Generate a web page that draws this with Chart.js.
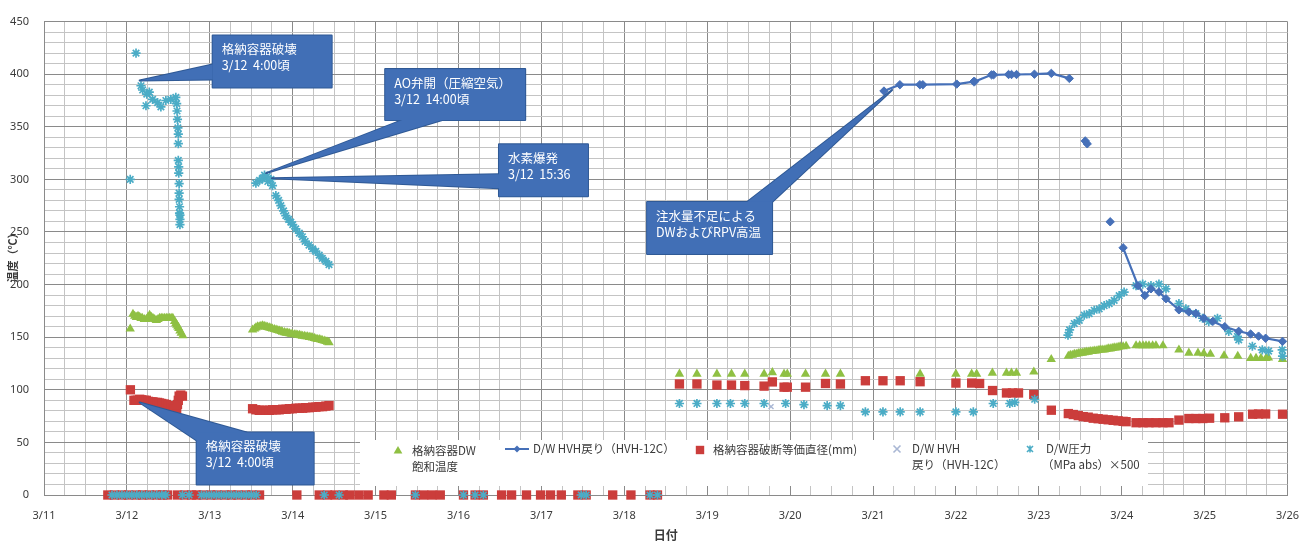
<!DOCTYPE html>
<html lang="ja">
<head>
<meta charset="utf-8">
<title>格納容器温度の推移</title>
<script src="https://cdn.jsdelivr.net/npm/chart.js@4.4.1/dist/chart.umd.min.js"></script>
<style>
  html, body { margin: 0; padding: 0; background: #ffffff; }
  #wrap { width: 1313px; height: 545px; }
</style>
</head>
<body>
<div id="wrap"><canvas id="chart" width="1313" height="545"></canvas></div>
<script>
// x values are days of March (12.5 = 3/12 12:00)
const firstDay = 11;
const lastDay = 26;
const dayLabels = ['3/11', '3/12', '3/13', '3/14', '3/15', '3/16', '3/17', '3/18',
                   '3/19', '3/20', '3/21', '3/22', '3/23', '3/24', '3/25', '3/26'];

// 格納容器DW飽和温度 (℃)
const satTimes = [
  12.04, 12.073, 12.094, 12.114, 12.134, 12.154, 12.17, 12.186, 12.21, 12.234, 12.254, 12.274,
  12.294, 12.314, 12.335, 12.355, 12.375, 12.394, 12.414, 12.434, 12.455, 12.475, 12.495, 12.514,
  12.534, 12.554, 12.575, 12.59, 12.602, 12.614, 12.626, 12.64, 12.655, 12.674,
  13.516, 13.54, 13.556, 13.576, 13.596, 13.616, 13.636, 13.656, 13.677, 13.697, 13.717, 13.737,
  13.756, 13.78, 13.8, 13.82, 13.84, 13.86, 13.876, 13.9, 13.92, 13.94, 13.96, 13.98, 13.996,
  14.02, 14.04, 14.06, 14.08, 14.1, 14.117, 14.14, 14.16, 14.18, 14.2, 14.22, 14.237, 14.26,
  14.28, 14.3, 14.32, 14.34, 14.357, 14.38, 14.4, 14.42, 14.438,
  18.665, 18.876, 19.117, 19.293, 19.453, 19.686, 19.786, 19.927, 19.966, 20.186, 20.427, 20.607,
  21.568, 22.0, 22.19, 22.25, 22.44, 22.61, 22.67, 22.73, 22.94, 23.15,
  23.356, 23.38, 23.404, 23.428, 23.452, 23.476, 23.5, 23.524, 23.548, 23.572, 23.596, 23.62,
  23.644, 23.668, 23.692, 23.716, 23.74, 23.764, 23.788, 23.812, 23.837, 23.861, 23.885, 23.909,
  23.933, 23.957, 23.981, 24.017, 24.053, 24.173, 24.217, 24.257, 24.293, 24.329, 24.373, 24.413,
  24.497, 24.69, 24.81, 24.92, 24.99, 25.07, 25.235, 25.40, 25.556, 25.62, 25.68, 25.74, 25.77, 25.94
];
const satTemps = [
  158, 172, 170, 169, 170, 169, 168, 168, 167, 167, 169, 171,
  169, 168, 167, 166, 167, 168, 168, 168, 168, 168, 168, 168,
  168, 168, 165, 163, 161.5, 160, 158.5, 156, 154, 151.5,
  157, 158, 159, 160, 160, 160.5, 161, 160.5, 160, 159.5, 159, 158.5,
  158, 157.5, 157, 156.5, 156, 155.5, 155, 154.5, 154, 154, 153.5, 153, 153,
  152.5, 152.5, 152, 152, 151.5, 151, 151, 150.5, 150.5, 150, 150, 149.5, 149,
  148.5, 148, 148, 147.5, 147, 146.5, 146, 145.5, 145,
  115, 115, 115, 115, 115, 115, 116.5, 115, 115, 115, 115, 115,
  115, 115, 115, 115, 116, 116, 116, 116, 117, 129,
  132, 133, 133, 134, 134, 134.5, 135, 135, 135.5, 136, 136, 136.5,
  136.5, 137, 137, 137.5, 138, 138, 138, 138.5, 139, 139, 139.5, 140,
  140, 140.5, 141, 141, 141.5, 142, 142, 142, 142, 142, 142, 142,
  142, 138, 135, 135, 134.5, 134, 132.5, 132, 130, 130, 130, 130, 130.5, 129
];

// D/W HVH戻り（HVH-12C） (℃), null = no reading between segments
const hvhTimes = [
  21.132, 21.324, 21.565, 21.601, 22.010, 22.214, 22.226, 22.430, 22.454, 22.635, 22.671, 22.731,
  22.947, 23.151, 23.368, 23.46, 23.560, 23.584, 23.72, 23.861, 23.94, 24.017, 24.197, 24.279,
  24.353, 24.449, 24.534, 24.690, 24.810, 24.894, 24.990, 25.099, 25.243, 25.411, 25.555, 25.651,
  25.736, 25.940
];
const hvhTemps = [
  384, 390, 390, 390, 390.6, 393, 393, 399.4, 399.4, 399.7, 399.7, 399.7,
  400, 400.8, 396, null, 336.6, 333.8, null, 259.7, null, 235, 199, 189.6,
  196, 193, 186.6, 176, 174, 172.5, 168, 165, 160, 155.6, 153, 151,
  149, 146
];

// 格納容器破断等価直径 (mm)
const diaTimes = [
  12.042, 12.085, 12.11, 12.13, 12.154, 12.18, 12.21, 12.234, 12.26, 12.29, 12.314, 12.34,
  12.37, 12.394, 12.42, 12.45, 12.475, 12.5, 12.535, 12.555, 12.575, 12.6, 12.61, 12.62,
  12.63, 12.65, 12.67,
  13.516, 13.556, 13.596, 13.636, 13.677, 13.72, 13.757, 13.8, 13.837, 13.88, 13.92, 13.96,
  13.996, 14.04, 14.08, 14.12, 14.157, 14.2, 14.24, 14.28, 14.317, 14.36, 14.4, 14.438,
  18.665, 18.876, 19.117, 19.293, 19.453, 19.686, 19.786, 19.927, 19.966, 20.186, 20.427, 20.607,
  20.908, 21.12, 21.328, 21.568, 22.0, 22.19, 22.286, 22.442, 22.61, 22.683, 22.755, 22.939, 23.151,
  23.356, 23.416, 23.476, 23.536, 23.596, 23.656, 23.716, 23.776, 23.837, 23.897, 23.957, 24.017,
  24.053, 24.173, 24.257, 24.329, 24.413, 24.497, 24.57, 24.69, 24.81, 24.894, 24.978, 25.06,
  25.243, 25.411, 25.579, 25.651, 25.736, 25.94
];
const diaValues = [
  100, 90, 90, 90, 91, 90.5, 90, 90, 89, 88.5, 88.5, 88,
  88, 87.5, 87, 86.5, 86, 85, 84, 83, 82, 82, 86, 90,
  94, 95, 94,
  82, 81, 80.5, 80.5, 80.5, 80.5, 81, 81, 81, 81.5, 81.5, 82,
  82, 82.5, 82.5, 82.5, 83, 83, 83.5, 83.5, 84, 84, 84.5, 85,
  105.5, 105.5, 104.5, 104.5, 104, 103.5, 107.5, 102.5, 102.5, 102.5, 106, 105.5,
  108.6, 108.6, 108.6, 107.7, 106.4, 106.4, 106, 99.3, 97, 97, 97, 95.5, 80.6,
  77.4, 76.5, 75.5, 74.5, 74, 73, 72.5, 72, 71.5, 71, 70.5, 70,
  69.7, 68.7, 68.7, 68.7, 68.7, 68.7, 68.7, 71.2, 72.7, 72.7, 72.7, 73,
  73.4, 74.3, 76.8, 77, 77, 76.8
];
// readings of 0 on the same series
const diaZeroTimes = [
  11.77, 11.85, 11.94, 12.02, 12.11, 12.19, 12.27, 12.36, 12.43, 12.49, 12.61, 12.70,
  12.78, 12.84, 12.92, 13.01, 13.09, 13.18, 13.26, 13.34, 13.43, 13.51, 13.60, 14.05,
  14.32, 14.42, 14.51, 14.61, 14.69, 14.80, 14.91, 15.10, 15.19, 15.48, 15.58, 15.68,
  15.78, 16.06, 16.20, 16.30, 16.52, 16.64, 16.82, 16.99, 17.11, 17.24, 17.44, 17.54,
  17.86, 18.08, 18.31, 18.40
];

// D/W HVH 戻り（HVH-12C）, cross markers
const hvhCrossTimes = [19.77];
const hvhCrossTemps = [84];

// D/W圧力（MPa abs）×500
const presTimes = [
  12.04, 12.11, 12.17, 12.19, 12.23, 12.24, 12.27, 12.31, 12.37, 12.41, 12.47, 12.53,
  12.59, 12.60, 12.605, 12.61, 12.615, 12.62, 12.62, 12.62, 12.625, 12.625, 12.63, 12.63,
  12.63, 12.635, 12.635, 12.64, 12.64, 12.64,
  13.556, 13.60, 13.636, 13.66, 13.692, 13.70, 13.737, 13.756, 13.797, 13.83, 13.857, 13.89,
  13.917, 13.95, 13.977, 14.0, 14.037, 14.08, 14.117, 14.15, 14.197, 14.24, 14.278, 14.32,
  14.357, 14.40, 14.438,
  18.665, 18.876, 19.117, 19.28, 19.453, 19.686, 19.946, 20.167, 20.447, 20.607,
  20.908, 21.12, 21.328, 21.568, 22.0, 22.21, 22.45, 22.65, 22.71, 22.95,
  23.352, 23.371, 23.428, 23.488, 23.548, 23.608, 23.668, 23.728, 23.788, 23.849, 23.909, 23.969,
  24.029, 24.173, 24.253, 24.353, 24.449, 24.534, 24.69, 24.774, 24.894, 24.975, 25.05, 25.155,
  25.291, 25.395, 25.411, 25.576, 25.696, 25.772, 25.936, 25.94
];
const presValues = [
  300, 420, 389, 385, 370, 381, 383, 376, 373, 369, 375, 376,
  378, 372, 365, 357, 349, 343, 334, 318, 312, 306, 296, 287,
  281, 274, 268, 262, 257, 266,
  296.5, 299, 301, 304, 303, 298, 300, 294, 284.5, 280, 275, 270,
  265.6, 262, 259.4, 257, 253, 249, 245.5, 241, 237.6, 234, 231.5, 228,
  225, 222, 219,
  87, 87, 87, 87, 87, 87, 87, 86, 85, 85,
  79, 79, 79, 79, 79, 79, 87, 87, 88, 91,
  152, 157, 163, 166, 171, 172.5, 175.6, 177, 180, 182, 185, 189.6,
  192.8, 199, 200.5, 199, 200.5, 196, 182, 177, 172.5, 168, 164.7, 168,
  155.4, 150.7, 147.5, 141.4, 138, 136.7, 138, 132
];
const presZeroTimes = [
  11.82, 11.88, 11.94, 12.00, 12.06, 12.12, 12.18, 12.24, 12.30, 12.36, 12.42, 12.47,
  12.67, 12.75, 12.90, 12.96, 13.02, 13.08, 13.14, 13.20, 13.26, 13.32, 13.38, 13.44,
  13.50, 13.56, 14.38, 14.56, 15.48, 16.06, 16.20, 16.30, 17.48, 17.54, 18.31, 18.40
];

const seriesNames = ['格納容器DW\n飽和温度', 'D/W HVH戻り（HVH-12C）', '格納容器破断等価直径(mm)',
                     'D/W HVH\n戻り（HVH-12C）', 'D/W圧力\n（MPa abs）×500'];

const colors = {
  sat: '#8fc043',
  hvh: '#4670b8',
  dia: '#cb3d3b',
  cross: '#a9b7d4',
  pres: '#4bacc6'
};

const pairs = (xs, ys) => xs.map((x, i) => ({ x, y: ys[i] }));
const zeros = (xs) => xs.map(x => ({ x, y: 0 }));

const CJK = '"Noto Sans CJK JP", "Noto Sans", sans-serif';
const textColor = '#3a3a3a';

// Callout annotations: tip in data units, box and wedge base in pixels from the tip
const callouts = [
  { lines: ['格納容器破壊', '3/12  4:00頃'], at: [12.154, 394], box: [73, -45, 119, 52], base: [[73, -16], [73, -1]] },
  { lines: ['AO弁開（圧縮空気）', '3/12  14:00頃'], at: [13.68, 306], box: [119, -104, 140, 51], base: [[136, -53], [176, -53]] },
  { lines: ['水素爆発', '3/12  15:36'], at: [13.75, 301], box: [227, -34, 89, 52], base: [[227, -4], [227, 10]] },
  { lines: ['注水量不足による', 'DWおよびRPV高温'], at: [21.23, 385], box: [-245, 112, 125, 52], base: [[-145, 112], [-120, 112]] },
  { lines: ['格納容器破壊', '3/12  4:00頃'], at: [12.154, 88], box: [57, 30, 117, 52], base: [[107, 30], [57, 38]] }
];

function marker(ctx, style, x, y, r, color) {
  ctx.save();
  ctx.fillStyle = color;
  ctx.strokeStyle = color;
  ctx.lineWidth = 1.6;
  ctx.beginPath();
  if (style === 'triangle') {
    ctx.moveTo(x, y - r);
    ctx.lineTo(x + r * 0.87, y + r * 0.5);
    ctx.lineTo(x - r * 0.87, y + r * 0.5);
    ctx.closePath();
    ctx.fill();
  } else if (style === 'rect') {
    ctx.rect(x - r, y - r, 2 * r, 2 * r);
    ctx.fill();
  } else if (style === 'diamond') {
    ctx.moveTo(x, y - r); ctx.lineTo(x + r, y); ctx.lineTo(x, y + r); ctx.lineTo(x - r, y);
    ctx.closePath();
    ctx.fill();
  } else if (style === 'cross') {
    ctx.moveTo(x - r, y - r); ctx.lineTo(x + r, y + r);
    ctx.moveTo(x + r, y - r); ctx.lineTo(x - r, y + r);
    ctx.stroke();
  } else if (style === 'star') {
    ctx.moveTo(x - r, y - r); ctx.lineTo(x + r, y + r);
    ctx.moveTo(x + r, y - r); ctx.lineTo(x - r, y + r);
    ctx.moveTo(x, y - r * 1.2); ctx.lineTo(x, y + r * 1.2);
    ctx.stroke();
  }
  ctx.restore();
}

const legendBox = {
  id: 'legendBox',
  beforeDatasetsDraw(chart) {
    const { ctx } = chart;
    const L = 360, T = 440, W = 788, H = 46;
    ctx.save();
    ctx.fillStyle = '#ffffff';
    ctx.fillRect(L, T, W, H);
    ctx.font = '11.5px ' + CJK;
    ctx.fillStyle = textColor;
    ctx.textBaseline = 'middle';
    ctx.textAlign = 'left';
    const items = [
      { style: 'triangle', color: colors.sat, mx: 398, my: 451, r: 5, tx: 412 },
      { style: 'line', color: colors.hvh, mx: 517, my: 449, r: 3.5, tx: 533 },
      { style: 'rect', color: colors.dia, mx: 700, my: 450, r: 4.2, tx: 713 },
      { style: 'cross', color: colors.cross, mx: 897, my: 449, r: 3.5, tx: 912 },
      { style: 'star', color: colors.pres, mx: 1030, my: 449, r: 3, tx: 1046 }
    ];
    items.forEach((it, i) => {
      if (it.style === 'line') {
        ctx.strokeStyle = it.color;
        ctx.lineWidth = 2;
        ctx.beginPath();
        ctx.moveTo(it.mx - 12, it.my);
        ctx.lineTo(it.mx + 12, it.my);
        ctx.stroke();
        marker(ctx, 'diamond', it.mx, it.my, it.r, it.color);
      } else {
        marker(ctx, it.style, it.mx, it.my, it.r, it.color);
      }
      ctx.fillStyle = textColor;
      seriesNames[i].split('\n').forEach((line, k) => {
        ctx.fillText(line, it.tx - (k > 0 && i === 4 ? 4 : 0), it.my + k * 15.5);
      });
    });
    ctx.restore();
  }
};

const calloutLayer = {
  id: 'calloutLayer',
  afterDatasetsDraw(chart) {
    const { ctx, scales: { x, y } } = chart;
    ctx.save();
    ctx.lineJoin = 'round';
    callouts.forEach(c => {
      const tx = x.getPixelForValue(c.at[0]);
      const ty = y.getPixelForValue(c.at[1]);
      const [bx, by, bw, bh] = c.box;
      const left = tx + bx, top = ty + by;
      const tri = () => {
        ctx.beginPath();
        ctx.moveTo(tx, ty);
        ctx.lineTo(tx + c.base[0][0], ty + c.base[0][1]);
        ctx.lineTo(tx + c.base[1][0], ty + c.base[1][1]);
        ctx.closePath();
      };
      ctx.strokeStyle = '#2f5995';
      ctx.lineWidth = 2;
      tri(); ctx.stroke();
      ctx.strokeRect(left, top, bw, bh);
      ctx.fillStyle = '#416fb6';
      tri(); ctx.fill();
      ctx.fillRect(left, top, bw, bh);
      ctx.fillStyle = '#ffffff';
      ctx.font = '12.5px ' + CJK;
      ctx.textAlign = 'left';
      ctx.textBaseline = 'middle';
      c.lines.forEach((line, k) => ctx.fillText(line, left + 9, top + 14 + k * 16));
    });
    ctx.restore();
  },
  afterDraw(chart) {
    const { ctx } = chart;
    ctx.save();
    ctx.translate(13, 255);
    ctx.rotate(-Math.PI / 2);
    ctx.font = 'bold 11px ' + CJK;
    ctx.fillStyle = textColor;
    ctx.textAlign = 'center';
    ctx.textBaseline = 'middle';
    ctx.fillText('温度（℃）', 0, 0);
    ctx.restore();
  }
};

const minorGrid = '#c4c4c4';
const majorGrid = '#8a8a8a';

new Chart(document.getElementById('chart'), {
  type: 'scatter',
  data: {
    datasets: [
      {
        label: seriesNames[1],
        data: pairs(hvhTimes, hvhTemps),
        showLine: true,
        spanGaps: false,
        borderColor: colors.hvh,
        backgroundColor: colors.hvh,
        borderWidth: 2.2,
        pointStyle: 'rectRot',
        pointRadius: 4.2,
        pointBorderWidth: 1,
        order: 0,
        clip: false
      },
      {
        label: seriesNames[4],
        data: pairs(presTimes, presValues).concat(zeros(presZeroTimes)),
        borderColor: colors.pres,
        backgroundColor: colors.pres,
        pointStyle: 'star',
        pointRadius: 4.6,
        pointBorderWidth: 1.7,
        order: 1,
        clip: false
      },
      {
        label: seriesNames[3],
        data: pairs(hvhCrossTimes, hvhCrossTemps),
        borderColor: colors.cross,
        backgroundColor: colors.cross,
        pointStyle: 'crossRot',
        pointRadius: 3.5,
        pointBorderWidth: 1.4,
        order: 2,
        clip: false
      },
      {
        label: seriesNames[2],
        data: pairs(diaTimes, diaValues).concat(zeros(diaZeroTimes)),
        borderColor: colors.dia,
        backgroundColor: colors.dia,
        pointStyle: 'rect',
        pointRadius: 6.6,
        pointBorderWidth: 0,
        order: 3,
        clip: false
      },
      {
        label: seriesNames[0],
        data: pairs(satTimes, satTemps),
        borderColor: colors.sat,
        backgroundColor: colors.sat,
        pointStyle: 'triangle',
        pointRadius: 5.4,
        pointBorderWidth: 0,
        order: 4,
        clip: false
      }
    ]
  },
  options: {
    responsive: false,
    animation: false,
    devicePixelRatio: 1,
    layout: { padding: { top: 13, right: 21, left: 0, bottom: 0 } },
    plugins: {
      legend: { display: false },
      tooltip: { enabled: false }
    },
    scales: {
      x: {
        type: 'linear',
        min: firstDay,
        max: lastDay,
        afterFit(scale) { scale.height = 50; },
        ticks: {
          stepSize: 0.25,
          autoSkip: false,
          maxRotation: 0,
          padding: 14,
          color: textColor,
          font: { family: 'Noto Sans', size: 11 },
          callback: (v) => Number.isInteger(v) ? dayLabels[v - firstDay] : ''
        },
        grid: {
          drawTicks: false,
          color: (ctx) => (ctx.tick && Number.isInteger(ctx.tick.value)) ? majorGrid : minorGrid
        },
        border: { color: majorGrid },
        title: {
          display: true,
          text: '日付',
          color: textColor,
          font: { family: CJK, size: 12, weight: 'bold' },
          padding: { top: 0, bottom: 2 }
        }
      },
      y: {
        min: 0,
        max: 450,
        afterFit(scale) { scale.width = 44; },
        ticks: {
          stepSize: 10,
          autoSkip: false,
          padding: 15,
          color: textColor,
          font: { family: 'Noto Sans', size: 11 },
          callback: (v) => v % 50 === 0 ? v : ''
        },
        grid: {
          drawTicks: false,
          color: (ctx) => (ctx.tick && ctx.tick.value % 50 === 0) ? majorGrid : minorGrid
        },
        border: { color: majorGrid }
      }
    }
  },
  plugins: [legendBox, calloutLayer]
});
</script>
</body>
</html>
